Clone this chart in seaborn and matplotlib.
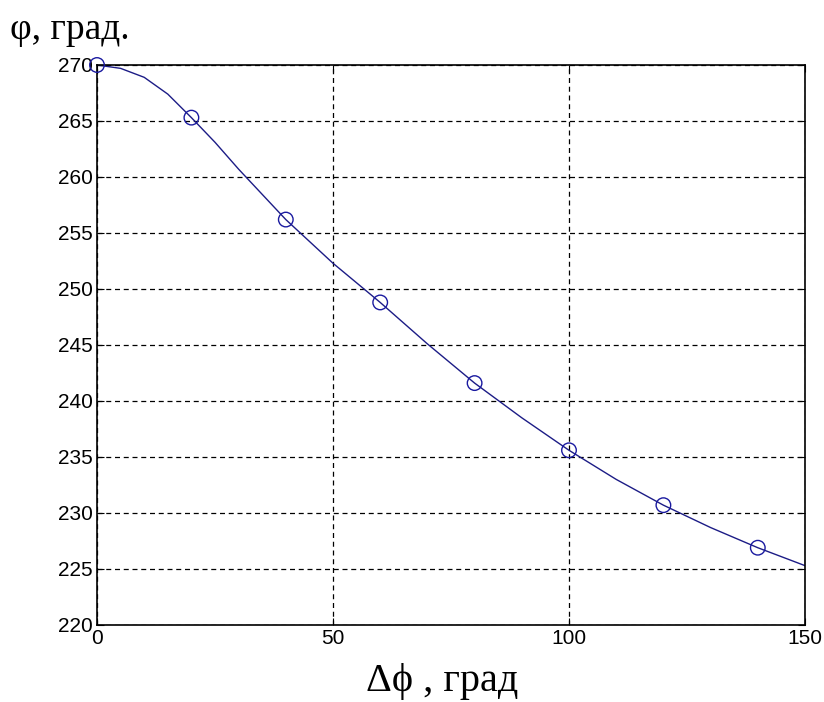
import matplotlib
matplotlib.use("Agg")
import matplotlib.pyplot as plt
import seaborn as sns
import pandas as pd
from matplotlib import font_manager

# Curve values
curve_x = [0, 5, 10, 15, 20, 25, 30, 40, 50, 60, 70, 80, 90, 100, 110, 120, 130, 140, 150]
curve_y = [270.0, 269.7, 268.9, 267.4, 265.3, 263.1, 260.7, 256.2, 252.3, 248.8, 245.1, 241.6, 238.5, 235.6, 233.0, 230.7, 228.7, 226.9, 225.3]
# Marked points
mark_x = [0, 20, 40, 60, 80, 100, 120, 140]
mark_y = [270.0, 265.3, 256.2, 248.8, 241.6, 235.6, 230.7, 226.9]
x_ticks = [0, 50, 100, 150]
y_ticks = [220, 225, 230, 235, 240, 245, 250, 255, 260, 265, 270]

sns.set_theme(style="white")
names = {f.name for f in font_manager.fontManager.ttflist}
tick_font = "Liberation Sans Narrow" if "Liberation Sans Narrow" in names else "Liberation Sans"
plt.rcParams['font.family'] = [tick_font, 'DejaVu Sans']

fig = plt.figure(figsize=(8.24, 7.02), dpi=100)
ax = fig.add_axes([97/824, 1-625/702, (805-97)/824, (625-65)/702])

line_color = "#1c1c86"
curve = pd.DataFrame({"x": curve_x, "y": curve_y})
marks = pd.DataFrame({"x": mark_x, "y": mark_y})
sns.lineplot(data=curve, x="x", y="y", ax=ax, color=line_color, linewidth=1.0)
sns.scatterplot(data=marks, x="x", y="y", ax=ax, marker="o", s=110,
                facecolor="none", edgecolor="#1a1aa0", linewidth=1.0, zorder=5, clip_on=False)

ax.set_xlim(0, 150)
ax.set_ylim(220, 270)
ax.set_xticks(x_ticks)
ax.set_yticks(y_ticks)
ax.set_xticklabels([str(v) for v in x_ticks], fontsize=15)
ax.set_yticklabels([str(v) for v in y_ticks], fontsize=15)
ax.tick_params(direction="in", length=5, width=0.8, colors="black", pad=3,
               top=True, right=True, bottom=True, left=True)
ax.grid(True, color="black", linestyle=(0, (4, 3)), linewidth=0.9)
for s in ax.spines.values():
    s.set_color("black")
    s.set_linewidth(1.2)
ax.set_xlabel("")
ax.set_ylabel("")

fig.text(442/824, 1-682/702, "Δϕ , град", ha="center", va="center", color="black",
         fontsize=29, family=["Liberation Serif", "DejaVu Serif"])
fig.text(10/824, 1-30/702, "φ, град.", ha="left", va="center", color="black",
         fontsize=27, family=["Liberation Serif", "DejaVu Serif"])

fig.savefig("out.png", dpi=100, facecolor="white")
